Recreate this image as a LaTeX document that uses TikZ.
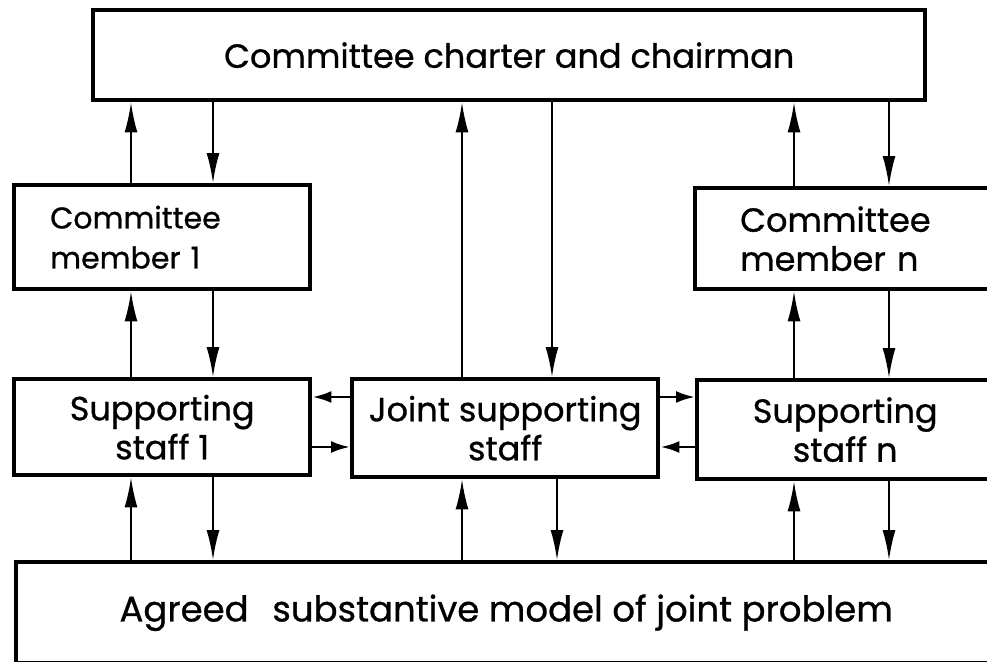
\documentclass[tikz,border=0pt]{standalone}
\usepackage{fontspec}
\setmainfont{Poppins}[FakeBold=0.8]
\usetikzlibrary{arrows.meta}
\begin{document}
\begin{tikzpicture}[x=1pt,y=-1pt,
  box/.style={draw, line width=4.4pt, rectangle, inner sep=0pt, anchor=north west},
  small/.style={font=\fontsize{30}{40}\selectfont},
  big/.style={font=\fontsize{33.5}{39}\selectfont},
  flow/.style={line width=2pt, -{Latex[length=30pt,width=13pt]}},
  side/.style={line width=2.8pt, -{Latex[length=19pt,width=12pt]}}]
\useasboundingbox (0,0) rectangle (987,661);
\clip (0,0) rectangle (987,661);

% boxes
\node[box, minimum width=832pt, minimum height=90pt,
      font=\fontsize{33.5}{40}\selectfont] (top) at (91,8) {Committee charter and chairman};
\node[box, small, minimum width=296pt, minimum height=104pt, inner xsep=36pt,
      text width=224pt, align=left] (m1) at (12,183) {Committee\\member 1};
\node[box, big, minimum width=317pt, minimum height=101pt, inner xsep=45pt,
      text width=227pt, align=left] (mn) at (693,186) {Committee\\member n};
\node[box, big, minimum width=296pt, minimum height=96pt, align=center] (s1) at (12,377) {Supporting\\staff 1};
\node[box, big, minimum width=306pt, minimum height=98pt, align=center] (js) at (350,377) {Joint supporting\\staff};
\node[box, big, minimum width=296pt, minimum height=99pt, align=center] (sn) at (695,378) {Supporting\\staff n};
\node[box, minimum width=1000pt, minimum height=101pt,
      font=\fontsize{35.5}{40}\selectfont] (ag) at (14,560) {\hspace*{-20pt}Agreed\hspace{0.4em} substantive model of joint problem};

% vertical connector columns
\coordinate (la) at (131,0);
\coordinate (lb) at (213,0);
\coordinate (ca) at (462,0);
\coordinate (cb) at (552,0);
\coordinate (cc) at (557,0);
\coordinate (ra) at (794,0);
\coordinate (rb) at (889,0);

% committee member 1 column
\draw[flow] (m1.north -| la) -- (top.south -| la);
\draw[flow] (top.south -| lb) -- (m1.north -| lb);
\draw[flow] (s1.north -| la) -- (m1.south -| la);
\draw[flow] (m1.south -| lb) -- (s1.north -| lb);
\draw[flow] (ag.north -| la) -- (s1.south -| la);
\draw[flow] (s1.south -| lb) -- (ag.north -| lb);

% joint staff column
\draw[flow] (js.north -| ca) -- (top.south -| ca);
\draw[flow] (top.south -| cb) -- (js.north -| cb);
\draw[flow] (ag.north -| ca) -- (js.south -| ca);
\draw[flow] (js.south -| cc) -- (ag.north -| cc);

% committee member n column
\draw[flow] (mn.north -| ra) -- (top.south -| ra);
\draw[flow] (top.south -| rb) -- (mn.north -| rb);
\draw[flow] (sn.north -| ra) -- (mn.south -| ra);
\draw[flow] (mn.south -| rb) -- (sn.north -| rb);
\draw[flow] (ag.north -| ra) -- (sn.south -| ra);
\draw[flow] (sn.south -| rb) -- (ag.north -| rb);

% exchanges between the staffs
\coordinate (ua) at (0,397);
\coordinate (ub) at (0,447);
\draw[side] (js.west |- ua) -- (s1.east |- ua);
\draw[side] (s1.east |- ub) -- (js.west |- ub);
\draw[side] (js.east |- ua) -- (sn.west |- ua);
\draw[side] (sn.west |- ub) -- (js.east |- ub);
\end{tikzpicture}
\end{document}
